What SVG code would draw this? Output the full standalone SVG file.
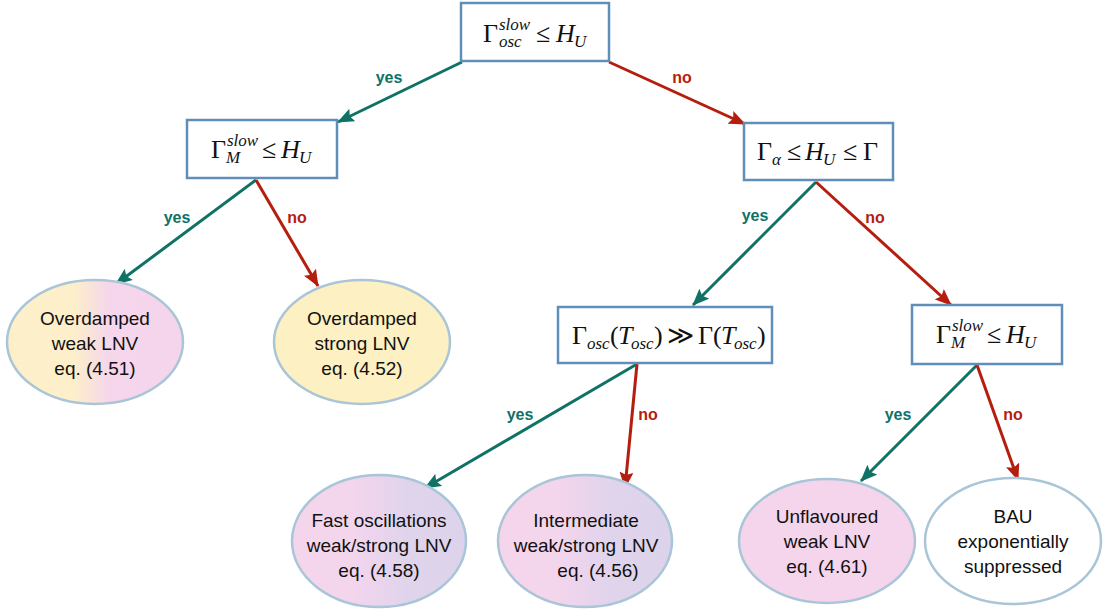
<svg xmlns="http://www.w3.org/2000/svg" width="1103" height="613" viewBox="0 0 1103 613">
<style>
.box{fill:#fff;stroke:#5f8fb8;stroke-width:2.5}
.ell{stroke:#a9c5d7;stroke-width:2.5}
.m{font-family:"Liberation Serif","Times New Roman",serif;font-size:26px;fill:#111}
.i{font-style:italic}
.s{font-family:"Liberation Serif","Times New Roman",serif;font-size:17px;font-style:italic;fill:#111}
.t{font-family:"Liberation Sans",Arial,sans-serif;font-size:19px;fill:#111;text-anchor:middle}
.lab{font-family:"Liberation Sans",Arial,sans-serif;font-size:16px;font-weight:bold;text-anchor:middle}
.yes{fill:#0f7264}
.no{fill:#b51e0e}
.ay{stroke:#0f7264;stroke-width:3;fill:none;marker-end:url(#hy)}
.an{stroke:#b51e0e;stroke-width:3;fill:none;marker-end:url(#hn)}
</style>
<defs>
<marker id="hy" markerUnits="userSpaceOnUse" markerWidth="17" markerHeight="14" refX="16" refY="7" orient="auto">
<path d="M0,0 L17,7 L0,14 L3,7 z" fill="#0f7264"/>
</marker>
<marker id="hn" markerUnits="userSpaceOnUse" markerWidth="17" markerHeight="14" refX="16" refY="7" orient="auto">
<path d="M0,0 L17,7 L0,14 L3,7 z" fill="#b51e0e"/>
</marker>
<linearGradient id="gYP" x1="0" y1="0" x2="1" y2="0">
<stop offset="0" stop-color="#fdf0c9"/>
<stop offset="0.38" stop-color="#fdefca"/>
<stop offset="0.58" stop-color="#f5d6eb"/>
<stop offset="1" stop-color="#f5d5ec"/>
</linearGradient>
<linearGradient id="gPL" x1="0" y1="0" x2="1" y2="0">
<stop offset="0" stop-color="#f5d5ec"/>
<stop offset="0.35" stop-color="#f3d5ec"/>
<stop offset="0.65" stop-color="#e0d4ec"/>
<stop offset="1" stop-color="#dcd3eb"/>
</linearGradient>
</defs>

<g id="connectors">
<line class="ay" x1="462" y1="62" x2="338" y2="122"/>
<line class="an" x1="609" y1="62" x2="745" y2="124"/>
<line class="ay" x1="256" y1="180" x2="116" y2="284"/>
<line class="an" x1="256" y1="180" x2="318" y2="286"/>
<line class="ay" x1="816" y1="182" x2="693" y2="305"/>
<line class="an" x1="816" y1="182" x2="951" y2="305"/>
<line class="ay" x1="637" y1="364" x2="425" y2="488"/>
<line class="an" x1="637" y1="364" x2="625" y2="488"/>
<line class="ay" x1="977" y1="365" x2="861" y2="481"/>
<line class="an" x1="977" y1="365" x2="1018" y2="480"/>
<text class="lab yes" x="389" y="83">yes</text>
<text class="lab no" x="682" y="83">no</text>
<text class="lab yes" x="177" y="223">yes</text>
<text class="lab no" x="297" y="223">no</text>
<text class="lab yes" x="755" y="221">yes</text>
<text class="lab no" x="875" y="223">no</text>
<text class="lab yes" x="520" y="420">yes</text>
<text class="lab no" x="648" y="420">no</text>
<text class="lab yes" x="898" y="420">yes</text>
<text class="lab no" x="1013" y="420">no</text>
</g>

<g id="n1">
<rect class="box" x="461" y="3" width="148" height="58"/>
<text class="m" x="483" y="42">Γ</text>
<text class="s" x="499" y="30">slow</text>
<text class="s" x="499" y="47">osc</text>
<text class="m" x="536" y="42">≤</text>
<text class="m i" x="556" y="42">H</text>
<text class="s" x="574" y="47">U</text>
</g>

<g id="n2">
<rect class="box" x="187" y="120" width="150" height="58"/>
<text class="m" x="211" y="158">Γ</text>
<text class="s" x="227" y="146">slow</text>
<text class="s" x="226" y="163">M</text>
<text class="m" x="262" y="158">≤</text>
<text class="m i" x="281" y="158">H</text>
<text class="s" x="299" y="163">U</text>
</g>

<g id="n3">
<rect class="box" x="744" y="123" width="149" height="57"/>
<text class="m" x="757" y="160">Γ</text>
<text class="s" x="772" y="165">α</text>
<text class="m" x="787" y="160">≤</text>
<text class="m i" x="805" y="160">H</text>
<text class="s" x="823" y="165">U</text>
<text class="m" x="843" y="160">≤</text>
<text class="m" x="863" y="160">Γ</text>
</g>

<g id="n4">
<rect class="box" x="558" y="307" width="214" height="56"/>
<text class="m" x="572" y="344">Γ</text>
<text class="s" x="587" y="349">osc</text>
<text class="m" x="610" y="344">(</text>
<text class="m i" x="618" y="344">T</text>
<text class="s" x="631" y="349">osc</text>
<text class="m" x="654" y="344">)</text>
<text class="m" x="667" y="344">≫</text>
<text class="m" x="698" y="344">Γ(</text>
<text class="m i" x="721" y="344">T</text>
<text class="s" x="734" y="349">osc</text>
<text class="m" x="757" y="344">)</text>
</g>

<g id="n5">
<rect class="box" x="912" y="305" width="150" height="59"/>
<text class="m" x="936" y="343">Γ</text>
<text class="s" x="952" y="331">slow</text>
<text class="s" x="951" y="348">M</text>
<text class="m" x="987" y="343">≤</text>
<text class="m i" x="1006" y="343">H</text>
<text class="s" x="1024" y="348">U</text>
</g>

<g id="e1">
<ellipse class="ell" cx="95" cy="342" rx="88" ry="62" fill="url(#gYP)"/>
<text class="t" x="95" y="325">Overdamped</text>
<text class="t" x="95" y="350">weak LNV</text>
<text class="t" x="95" y="375">eq. (4.51)</text>
</g>

<g id="e2">
<ellipse class="ell" cx="362" cy="342" rx="88" ry="62" fill="#fdf0c2"/>
<text class="t" x="362" y="325">Overdamped</text>
<text class="t" x="362" y="350">strong LNV</text>
<text class="t" x="362" y="375">eq. (4.52)</text>
</g>

<g id="e3">
<ellipse class="ell" cx="379" cy="541" rx="87" ry="66" fill="url(#gPL)"/>
<text class="t" x="379" y="527">Fast oscillations</text>
<text class="t" x="379" y="552">weak/strong LNV</text>
<text class="t" x="379" y="577">eq. (4.58)</text>
</g>

<g id="e4">
<ellipse class="ell" cx="585" cy="541" rx="87" ry="66" fill="url(#gPL)"/>
<text class="t" x="586" y="527">Intermediate</text>
<text class="t" x="586" y="552">weak/strong LNV</text>
<text class="t" x="598" y="577">eq. (4.56)</text>
</g>

<g id="e5">
<ellipse class="ell" cx="827" cy="541" rx="88" ry="62" fill="#f5d5ec"/>
<text class="t" x="827" y="523">Unflavoured</text>
<text class="t" x="827" y="548">weak LNV</text>
<text class="t" x="827" y="573">eq. (4.61)</text>
</g>

<g id="e6">
<ellipse class="ell" cx="1013" cy="541" rx="88" ry="63" fill="#fff"/>
<text class="t" x="1013" y="523">BAU</text>
<text class="t" x="1013" y="548">exponentially</text>
<text class="t" x="1013" y="573">suppressed</text>
</g>
</svg>
